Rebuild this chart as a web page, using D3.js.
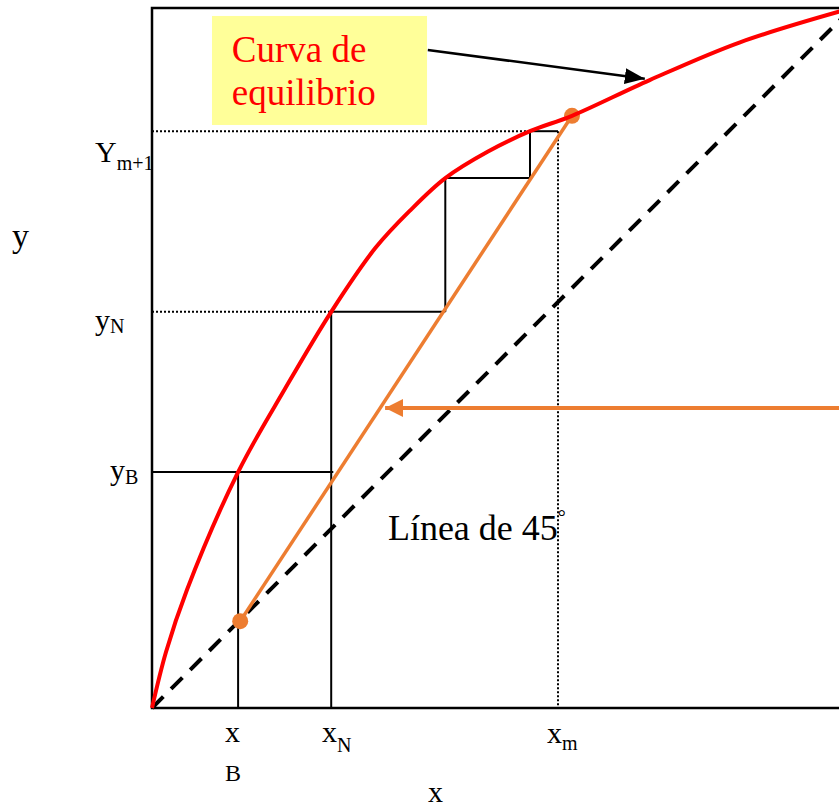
<!DOCTYPE html>
<html>
<head>
<meta charset="utf-8">
<script src="https://cdn.jsdelivr.net/npm/d3@7"></script>
<style>
  body { margin: 0; background: #fff; }
  svg { display: block; font-family: "Liberation Serif", "Times New Roman", serif; }
</style>
</head>
<body>
<div id="chart_wrapper"></div>
<script>
// equilibrium curve (x, y) in mole fractions
var eqX = [0, 0.02, 0.05, 0.123, 0.19, 0.256, 0.319, 0.369, 0.419, 0.48, 0.54, 0.6, 0.711, 0.84, 1.0];
var eqY = [0, 0.08, 0.169, 0.337, 0.456, 0.566, 0.657, 0.711, 0.757, 0.795, 0.824, 0.846, 0.897, 0.951, 1.0];

// operating line end points
var opX = [0.126, 0.6];
var opY = [0.124, 0.846];

// stage compositions
var xB = 0.123, xN = 0.256, x2 = 0.419, x3 = 0.54, xm = 0.58;
var yB = 0.337, yN = 0.566, y2 = 0.757, yM1 = 0.824;

var stepLines = [
    [[0, yB], [0.259, yB]],
    [[xB, yB], [xB, 0]],
    [[xN, yN], [xN, 0]],
    [[xN, yN], [x2, yN]],
    [[x2, yN], [x2, y2]],
    [[x2, y2], [x3, y2]],
    [[x3, y2], [x3, yM1]],
    [[x3, yM1], [xm, yM1]]
];
var dottedLines = [
    [[0, yM1], [x3, yM1]],
    [[0, yN], [xN, yN]],
    [[xm, yM1], [xm, 0]]
];

var margin = {left: 152, top: 8, right: 0, bottom: 103};
var width = 700, height = 700;

var svg = d3.select("#chart_wrapper").append("svg")
    .attr("width", 839).attr("height", 811)
    .style("overflow", "hidden");

var defs = svg.append("defs");
defs.append("marker").attr("id", "arrBlack")
    .attr("markerUnits", "userSpaceOnUse")
    .attr("viewBox", "0 0 20 16").attr("refX", 20).attr("refY", 8)
    .attr("markerWidth", 20).attr("markerHeight", 16).attr("orient", "auto")
    .append("path").attr("d", "M0,0L20,8L0,16Z").attr("fill", "#000");
defs.append("marker").attr("id", "arrOrange")
    .attr("markerUnits", "userSpaceOnUse")
    .attr("viewBox", "0 0 18 18").attr("refX", 18).attr("refY", 9)
    .attr("markerWidth", 18).attr("markerHeight", 18).attr("orient", "auto")
    .append("path").attr("d", "M0,0L18,9L0,18Z").attr("fill", "#ED7D31");

var g = svg.append("g").attr("transform", "translate(" + margin.left + "," + margin.top + ")");

var x = d3.scaleLinear().domain([0, 1]).range([0, width]);
var y = d3.scaleLinear().domain([0, 1]).range([height, 0]);

var line = d3.line().x(function(d){ return x(d[0]); }).y(function(d){ return y(d[1]); });

// frame
g.append("rect").attr("x", 0).attr("y", 0).attr("width", width).attr("height", height)
    .attr("fill", "none").attr("stroke", "#000").attr("stroke-width", 2.5);

// label box
g.append("rect")
    .attr("x", x(0.0857)).attr("y", y(0.9886))
    .attr("width", x(0.3929) - x(0.0857)).attr("height", y(0.8329) - y(0.9886))
    .attr("fill", "#FFFF99");
g.append("text").attr("x", x(0.114)).attr("y", 54).attr("fill", "#FF0000")
    .style("font-size", "37px").text("Curva de");
g.append("text").attr("x", x(0.114)).attr("y", 97).attr("fill", "#FF0000")
    .style("font-size", "37px").text("equilibrio");

// 45 degree line
g.append("path").datum([[0, 0], [1, 1]]).attr("d", line)
    .attr("fill", "none").attr("stroke", "#000").attr("stroke-width", 4)
    .attr("stroke-dasharray", "16,11");

// stages
g.selectAll(".step").data(stepLines).enter().append("path").attr("class", "step")
    .attr("d", line).attr("fill", "none").attr("stroke", "#000").attr("stroke-width", 2);
g.selectAll(".dot-line").data(dottedLines).enter().append("path").attr("class", "dot-line")
    .attr("d", line).attr("fill", "none").attr("stroke", "#000").attr("stroke-width", 2)
    .attr("stroke-dasharray", "2,2");

// operating line
var opData = opX.map(function(v, i){ return [v, opY[i]]; });
g.append("path").datum(opData).attr("d", line)
    .attr("fill", "none").attr("stroke", "#ED7D31").attr("stroke-width", 3.5);
g.selectAll(".op-pt").data(opData).enter().append("circle").attr("class", "op-pt")
    .attr("cx", function(d){ return x(d[0]); }).attr("cy", function(d){ return y(d[1]); })
    .attr("r", 8).attr("fill", "#ED7D31");

// equilibrium curve
var eqData = eqX.map(function(v, i){ return [v, eqY[i]]; });
var eqLine = d3.line().x(function(d){ return x(d[0]); }).y(function(d){ return y(d[1]); })
    .curve(d3.curveCatmullRom.alpha(0.5));
g.append("path").datum(eqData).attr("d", eqLine)
    .attr("fill", "none").attr("stroke", "#FF0000").attr("stroke-width", 4);

// annotation arrows
g.append("path").datum([[0.394, 0.94], [0.704, 0.899]]).attr("d", line)
    .attr("stroke", "#000").attr("stroke-width", 2.5).attr("marker-end", "url(#arrBlack)");
g.append("path").datum([[1.0, 0.4286], [0.333, 0.4286]]).attr("d", line)
    .attr("stroke", "#ED7D31").attr("stroke-width", 4).attr("marker-end", "url(#arrOrange)");

// 45 label
var t45 = g.append("text").attr("x", x(0.337)).attr("y", y(0.24)).style("font-size", "36px");
t45.append("tspan").text("Línea de 45");
t45.append("tspan").attr("dy", -16).style("font-size", "20px").text("°");

// tick labels with subscripts
function subLabel(px, py, main, sub, mainSize, subSize, subDy) {
    var t = svg.append("text").attr("x", px).attr("y", py).style("font-size", mainSize + "px");
    t.append("tspan").text(main);
    t.append("tspan").attr("dy", subDy).style("font-size", subSize + "px").text(sub);
}
subLabel(95, 162, "Y", "m+1", 30, 20, 8);
subLabel(95, 330, "y", "N", 30, 20, 3);
subLabel(110, 480, "y", "B", 30, 20, 4);
subLabel(322, 742, "x", "N", 30, 20, 10);
subLabel(547, 743, "x", "m", 30, 20, 7);
svg.append("text").attr("x", 225).attr("y", 742).style("font-size", "30px").text("x");
svg.append("text").attr("x", 225).attr("y", 781).style("font-size", "24px").text("B");

// axis titles
svg.append("text").attr("x", 12).attr("y", 247).style("font-size", "34px").text("y");
svg.append("text").attr("x", 428).attr("y", 802).style("font-size", "30px").text("x");
</script>
</body>
</html>
